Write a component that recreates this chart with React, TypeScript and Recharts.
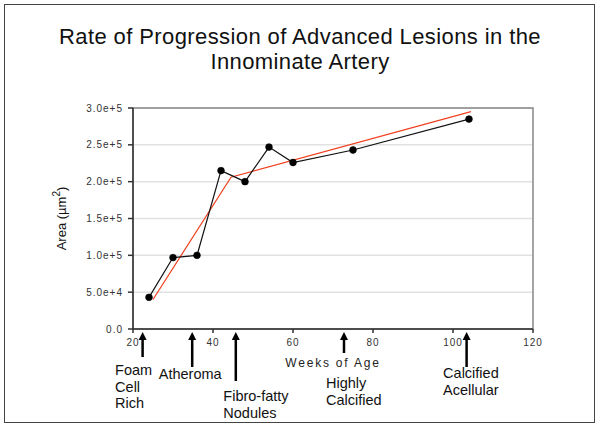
import { LineChart, Line, XAxis, YAxis, CartesianGrid, ReferenceArea, ReferenceLine } from 'recharts';

// measured lesion area by age (black series)
const weeks = [24, 30, 36, 42, 48, 54, 60, 75, 104];
const areas = [43000, 97000, 100000, 215000, 200000, 247000, 226000, 243000, 285000];

// piecewise linear fit (red)
const fitWeeks = [25, 44.5, 104.5];
const fitAreas = [40000, 206000, 295000];

const xTicks = [20, 40, 60, 80, 100, 120];
const yTicks = [0, 50000, 100000, 150000, 200000, 250000, 300000];

// lesion stage annotations
const stageWeeks = [22.4, 34.8, 45.7, 72.75, 103.4];
const stageLabels = [
  ['Foam', 'Cell', 'Rich'],
  ['Atheroma'],
  ['Fibro-fatty', 'Nodules'],
  ['Highly', 'Calcified'],
  ['Calcified', 'Acellular'],
];

const measured = weeks.map((w, i) => ({ week: w, area: areas[i] }));
const fitted = fitWeeks.map((w, i) => ({ week: w, area: fitAreas[i] }));

const FONT = '"Liberation Sans", Arial, sans-serif';

// layout for the arrows: shaft length, label x offset, anchor, first baseline
const arrowStyle = [
  { len: 28, dx: -27.5, anchor: 'start', base: 46 },
  { len: 38, dx: -2, anchor: 'middle', base: 50 },
  { len: 52, dx: -12.5, anchor: 'start', base: 72 },
  { len: 24, dx: -18, anchor: 'start', base: 59 },
  { len: 38, dx: -23.5, anchor: 'start', base: 49 },
];

function fmtY(v: number) {
  if (v === 0) return '0.0';
  return v.toExponential(1);
}

function StageArrow(props: any) {
  const { x1, y1, y2, idx } = props;
  const axisY = Math.max(y1, y2);
  const s = arrowStyle[idx];
  const tip = axisY + 3;
  const lines = stageLabels[idx];
  return (
    <g>
      <polygon points={`${x1},${tip} ${x1 - 4},${tip + 8} ${x1 + 4},${tip + 8}`} fill="#000" />
      <line x1={x1} x2={x1} y1={tip + 6} y2={axisY + s.len} stroke="#000" strokeWidth={2.5} />
      <text fontFamily={FONT} fontSize={14.5} fill="#111" textAnchor={s.anchor}>
        {lines.map((t, j) => (
          <tspan key={j} x={x1 + s.dx} y={axisY + s.base + j * 16.5}>{t}</tspan>
        ))}
      </text>
    </g>
  );
}

function AreaLabel(props: any) {
  const vb = props.viewBox || { y: 108, height: 221 };
  const cy = vb.y + vb.height / 2;
  const x = 66;
  return (
    <text
      transform={`rotate(-90, ${x}, ${cy})`}
      x={x}
      y={cy}
      textAnchor="middle"
      fontFamily={FONT}
      fontSize={13}
      fill="#111"
    >
      Area (µm<tspan fontSize={10} dy={-6}>2</tspan><tspan dy={6}>)</tspan>
    </text>
  );
}

export default function App() {
  const tickStyle = { fontFamily: FONT, fontSize: 10, fill: '#333', letterSpacing: 1 };
  return (
    <div style={{ position: 'absolute', left: 0, top: 0, width: 600, height: 429, background: '#fff' }}>
      <div
        style={{
          position: 'absolute', left: 4, top: 4, width: 591, height: 419,
          border: '1.5px solid #444', boxSizing: 'border-box',
        }}
      />
      <LineChart width={600} height={429} margin={{ top: 108, right: 67, bottom: 70, left: 73 }}>
        <CartesianGrid vertical={false} stroke="#e2e2e2" strokeWidth={1.5} />
        <ReferenceArea x1={20} x2={120} y1={0} y2={300000} fill="none" stroke="#888" strokeWidth={1.5} />
        <XAxis
          type="number"
          dataKey="week"
          domain={[20, 120]}
          ticks={xTicks}
          height={30}
          tick={tickStyle}
          tickSize={4}
          tickMargin={6}
          stroke="#333"
          strokeWidth={1.5}
          label={{
            value: 'Weeks of Age', position: 'insideTop', offset: 29,
            style: { fontFamily: FONT, fontSize: 12, fill: '#222', letterSpacing: 1.8 },
          }}
        />
        <YAxis
          type="number"
          domain={[0, 300000]}
          ticks={yTicks}
          width={60}
          tick={tickStyle}
          tickSize={5}
          tickMargin={5}
          tickFormatter={fmtY}
          stroke="#333"
          strokeWidth={1.5}
          label={<AreaLabel />}
        />
        {stageWeeks.map((w, i) => (
          <ReferenceLine key={i} x={w} shape={(p: any) => <StageArrow {...p} idx={i} />} />
        ))}
        <Line
          data={fitted}
          dataKey="area"
          stroke="#f0401e"
          strokeWidth={1.2}
          dot={false}
          isAnimationActive={false}
        />
        <Line
          data={measured}
          dataKey="area"
          stroke="#111"
          strokeWidth={1.2}
          dot={{ r: 3.4, fill: '#000', stroke: '#000', strokeWidth: 0.6 }}
          isAnimationActive={false}
        />
      </LineChart>
      <div
        style={{
          position: 'absolute', left: 0, top: 24, width: 600, textAlign: 'center',
          fontFamily: FONT, fontSize: 22, letterSpacing: 0.4, lineHeight: '25px', color: '#111',
        }}
      >
        Rate of Progression of Advanced Lesions in the<br />Innominate Artery
      </div>
    </div>
  );
}
